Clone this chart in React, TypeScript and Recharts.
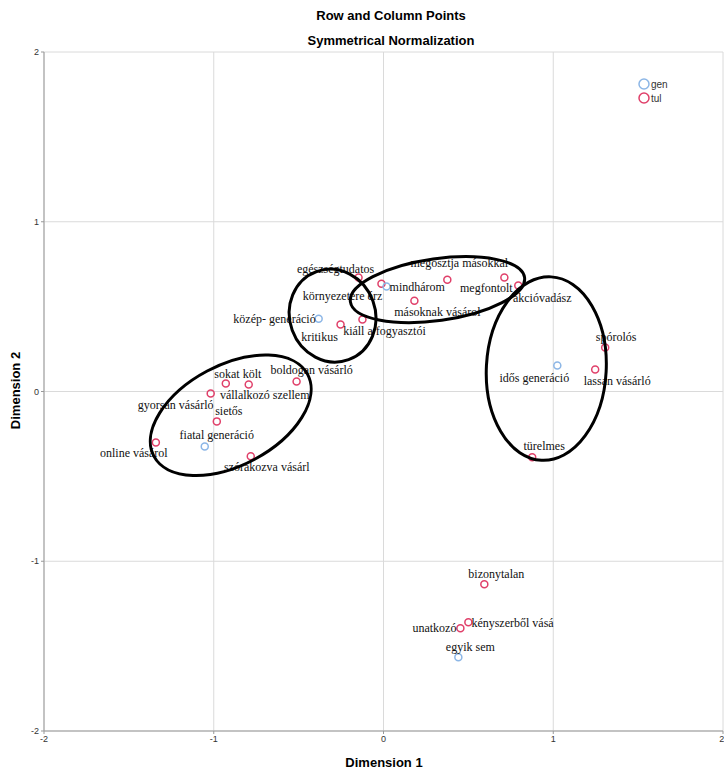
import React from "react";
import { ScatterChart, Scatter, XAxis, YAxis, CartesianGrid } from "recharts";

// tul (row) points
const tulNames = [
  "egészségtudatos", "környezetére érz", "megosztja másokkal", "megfontolt", "akcióvadász",
  "másoknak vásárol", "kritikus", "kiáll a fogyasztói", "sokat költ", "vállalkozó szellem",
  "boldogan vásárló", "gyorsan vásárló", "sietős", "online vásárol", "szórakozva vásárl",
  "spórolós", "lassan vásárló", "türelmes", "bizonytalan", "kényszerből vásá", "unatkozó",
];
const tulX = [
  -0.147, -0.012, 0.376, 0.712, 0.794, 0.182, -0.253, -0.124, -0.929, -0.794, -0.512,
  -1.018, -0.982, -1.341, -0.782, 1.306, 1.247, 0.876, 0.594, 0.5, 0.453,
];
const tulY = [
  0.671, 0.635, 0.659, 0.671, 0.624, 0.535, 0.394, 0.424, 0.047, 0.041, 0.059,
  -0.012, -0.176, -0.3, -0.382, 0.259, 0.129, -0.388, -1.135, -1.359, -1.394,
];

// gen (column) points
const genNames = ["közép- generáció", "mindhárom", "fiatal generáció", "idős generáció", "egyik sem"];
const genX = [-0.382, 0.018, -1.053, 1.024, 0.441];
const genY = [0.429, 0.618, -0.324, 0.153, -1.565];

// hand-drawn cluster ellipses (data units)
const ellipseX = [-0.9, -0.3, 0.318, 0.959];
const ellipseY = [-0.14, 0.447, 0.6, 0.135];
const ellipseRx = [0.513, 0.253, 0.518, 0.353];
const ellipseRy = [0.295, 0.276, 0.182, 0.541];
const ellipseAngle = [-28, -20, -8, 3];

const axisTicks = [-2, -1, 0, 1, 2];

const tulData = tulNames.map((name, i) => ({ name, x: tulX[i], y: tulY[i] }));
const genData = genNames.map((name, i) => ({ name, x: genX[i], y: genY[i] }));
const ellipseData = ellipseX.map((x, i) => ({
  x,
  y: ellipseY[i],
  rx: ellipseRx[i],
  ry: ellipseRy[i],
  angle: ellipseAngle[i],
}));

// label placement: [dx, dy, anchor]
const labelPos: Record<string, [number, number, string]> = {
  "egészségtudatos": [-23, -9, "middle"],
  "környezetére érz": [-39, 12, "middle"],
  "megosztja másokkal": [12, -17, "middle"],
  "megfontolt": [-18, 10, "middle"],
  "akcióvadász": [24, 12, "middle"],
  "másoknak vásárol": [23, 11, "middle"],
  "kritikus": [-21, 12, "middle"],
  "kiáll a fogyasztói": [22, 11, "middle"],
  "sokat költ": [12, -10, "middle"],
  "vállalkozó szellem": [16, 10, "middle"],
  "boldogan vásárló": [15, -11, "middle"],
  "gyorsan vásárló": [-35, 11, "middle"],
  "sietős": [12, -10, "middle"],
  "online vásárol": [-22, 11, "middle"],
  "szórakozva vásárl": [16, 11, "middle"],
  "spórolós": [11, -11, "middle"],
  "lassan vásárló": [22, 11, "middle"],
  "türelmes": [12, -11, "middle"],
  "bizonytalan": [12, -10, "middle"],
  "kényszerből vásá": [3, 1, "start"],
  "unatkozó": [-4, 0, "end"],
  "közép- generáció": [-3, 0, "end"],
  "mindhárom": [3, 0, "start"],
  "fiatal generáció": [12, -11, "middle"],
  "idős generáció": [-23, 12, "middle"],
  "egyik sem": [12, -10, "middle"],
};

const W = 724;
const H = 772;
const Y_AXIS_W = 44;
const X_AXIS_H = 41;
const MARGIN = { top: 52, right: 1, bottom: 0, left: 0 };
const UNIT = (W - Y_AXIS_W - MARGIN.right - MARGIN.left) / 4;

const RED = "#e0406a";
const BLUE = "#8cb6e6";
const SANS = "'Liberation Sans', Arial, sans-serif";
const SERIF = "'Liberation Serif', 'Times New Roman', serif";

function pointShape(color: string) {
  return (props: any) => {
    const { cx, cy, payload } = props;
    const p = labelPos[payload.name] || [0, -10, "middle"];
    return (
      <g>
        <circle cx={cx} cy={cy} r={3.5} fill="none" stroke={color} strokeWidth={1.5} />
        <text
          x={cx + p[0]}
          y={cy + p[1]}
          textAnchor={p[2] as any}
          dominantBaseline="central"
          fontFamily={SERIF}
          fontSize={12}
          fill="#111"
        >
          {payload.name}
        </text>
      </g>
    );
  };
}

function ellipseShape(props: any) {
  const { cx, cy, payload } = props;
  return (
    <ellipse
      cx={cx}
      cy={cy}
      rx={payload.rx * UNIT}
      ry={payload.ry * UNIT}
      transform={`rotate(${payload.angle} ${cx} ${cy})`}
      fill="none"
      stroke="#000"
      strokeWidth={3}
    />
  );
}

export default function App() {
  const tick = { fill: "#333", fontSize: 9, fontFamily: SANS };
  return (
    <div style={{ position: "absolute", left: 0, top: 0, width: W, height: H, background: "#fff", overflow: "hidden" }}>
      <div style={{ position: "absolute", left: 291, width: 200, top: 8, textAlign: "center", fontFamily: SANS, fontWeight: "bold", fontSize: 13 }}>
        Row and Column Points
      </div>
      <div style={{ position: "absolute", left: 291, width: 200, top: 33, textAlign: "center", fontFamily: SANS, fontWeight: "bold", fontSize: 13 }}>
        Symmetrical Normalization
      </div>
      <ScatterChart width={W} height={H} margin={MARGIN}>
        <CartesianGrid stroke="#dadada" strokeWidth={1} />
        <XAxis
          type="number"
          dataKey="x"
          domain={[-2, 2]}
          ticks={axisTicks}
          height={X_AXIS_H}
          tick={tick}
          tickLine={{ stroke: "#999" }}
          tickSize={3}
          axisLine={{ stroke: "#999" }}
          allowDataOverflow
        />
        <YAxis
          type="number"
          dataKey="y"
          domain={[-2, 2]}
          ticks={axisTicks}
          width={Y_AXIS_W}
          tick={tick}
          tickLine={{ stroke: "#999" }}
          tickSize={3}
          axisLine={{ stroke: "#999" }}
          allowDataOverflow
        />
        <Scatter data={tulData} shape={pointShape(RED)} isAnimationActive={false} />
        <Scatter data={genData} shape={pointShape(BLUE)} isAnimationActive={false} />
        <Scatter data={ellipseData} shape={ellipseShape} isAnimationActive={false} />
      </ScatterChart>
      <div style={{ position: "absolute", left: 300, width: 168, top: 755, textAlign: "center", fontFamily: SANS, fontWeight: "bold", fontSize: 13 }}>
        Dimension 1
      </div>
      <div
        style={{
          position: "absolute",
          left: 15 - 50,
          width: 100,
          top: 391 - 8,
          textAlign: "center",
          fontFamily: SANS,
          fontWeight: "bold",
          fontSize: 13,
          transform: "rotate(-90deg)",
        }}
      >
        Dimension 2
      </div>
      <svg style={{ position: "absolute", left: 636, top: 76 }} width={60} height={30}>
        <circle cx={8} cy={8} r={5} fill="none" stroke={BLUE} strokeWidth={1.5} />
        <text x={15} y={8} dominantBaseline="central" fontFamily={SANS} fontSize={10} fill="#333">gen</text>
        <circle cx={8} cy={22} r={5} fill="none" stroke={RED} strokeWidth={1.5} />
        <text x={15} y={22} dominantBaseline="central" fontFamily={SANS} fontSize={10} fill="#333">tul</text>
      </svg>
    </div>
  );
}
